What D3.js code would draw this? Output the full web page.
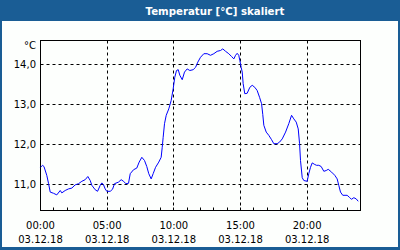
<!DOCTYPE html>
<html>
<head>
<meta charset="utf-8">
<script src="https://cdn.jsdelivr.net/npm/d3@7"></script>
<style>
  body { margin: 0; background: #fff; }
  svg { display: block; }
</style>
</head>
<body>
<script>
// measurement times (hours since 00:00) and temperatures
const hours = [0.00, 0.15, 0.26, 0.47, 0.60, 0.73, 0.98, 1.22, 1.48, 1.60, 1.85, 2.10, 2.35, 2.60, 2.85,
  3.10, 3.35, 3.55, 3.73, 3.85, 4.10, 4.28, 4.48, 4.60, 4.73, 4.85, 4.97, 5.23, 5.40, 5.55, 5.85,
  6.05, 6.23, 6.40, 6.60, 6.73, 6.98, 7.22, 7.40, 7.60, 7.80, 7.97, 8.12, 8.30, 8.45, 8.63, 8.87,
  9.05, 9.13, 9.20, 9.30, 9.43, 9.62, 9.80, 9.95, 10.07, 10.20, 10.33, 10.45, 10.63, 10.80, 11.00,
  11.20, 11.45, 11.63, 11.80, 12.00, 12.25, 12.50, 12.75, 13.00, 13.25, 13.50, 13.67, 13.88, 14.12,
  14.33, 14.50, 14.63, 14.75, 14.87, 14.95, 15.05, 15.13, 15.20, 15.32, 15.50, 15.70, 15.88, 16.07,
  16.25, 16.43, 16.58, 16.67, 16.75, 16.93, 17.12, 17.33, 17.50, 17.75, 17.93, 18.13, 18.38, 18.62,
  18.83, 19.00, 19.18, 19.33, 19.43, 19.50, 19.63, 19.75, 20.00, 20.12, 20.25, 20.38, 20.57, 20.70,
  20.87, 21.05, 21.25, 21.43, 21.58, 21.83, 22.07, 22.25, 22.37, 22.50, 22.67, 23.00, 23.17, 23.32,
  23.50, 23.68, 23.83];
const temps = [11.43, 11.48, 11.45, 11.23, 11.03, 10.81, 10.78, 10.74, 10.85, 10.79, 10.85, 10.89, 10.91, 10.99, 11.02,
  11.08, 11.12, 11.20, 11.10, 10.98, 10.87, 10.83, 10.98, 11.04, 10.99, 10.89, 10.83, 10.83, 10.88, 11.02, 11.06,
  11.12, 11.08, 11.02, 11.03, 11.27, 11.37, 11.41, 11.56, 11.68, 11.60, 11.45, 11.27, 11.14, 11.27, 11.43, 11.56,
  11.68, 11.93, 12.18, 12.52, 12.73, 12.89, 13.10, 13.39, 13.68, 13.85, 13.87, 13.73, 13.62, 13.81, 13.89,
  13.85, 13.87, 13.93, 14.06, 14.18, 14.27, 14.27, 14.23, 14.27, 14.33, 14.35, 14.39, 14.33, 14.27,
  14.20, 14.14, 14.23, 14.28, 14.23, 14.10, 13.93, 13.81, 13.52, 13.27, 13.28, 13.43, 13.48, 13.43,
  13.35, 13.18, 13.02, 12.75, 12.48, 12.31, 12.23, 12.12, 12.02, 12.02, 12.06, 12.14, 12.31, 12.52,
  12.73, 12.64, 12.56, 12.39, 12.02, 11.60, 11.17, 11.10, 11.08, 11.27, 11.43, 11.54, 11.50, 11.48,
  11.48, 11.45, 11.33, 11.35, 11.38, 11.31, 11.23, 11.14, 10.98, 10.81, 10.73, 10.73, 10.68, 10.63,
  10.67, 10.64, 10.58];

const xTickHours = [0, 5, 10, 15, 20];
const xTimeLabels = ['00:00', '05:00', '10:00', '15:00', '20:00'];
const xDateLabels = ['03.12.18', '03.12.18', '03.12.18', '03.12.18', '03.12.18'];
const yTickValues = [11, 12, 13, 14];
const yTickLabels = ['11,0', '12,0', '13,0', '14,0'];
const minorTickHours = d3.range(0, 25);

const width = 400, height = 250;
const frameColor = '#1a5d95';
const font = '"DejaVu Sans", Verdana, sans-serif';

const svg = d3.select('body').append('svg')
  .attr('width', width)
  .attr('height', height);

// window frame + title bar
svg.append('rect')
  .attr('width', width).attr('height', height)
  .attr('fill', frameColor);
svg.append('rect')
  .attr('x', 2).attr('y', 21)
  .attr('width', width - 4).attr('height', height - 24)
  .attr('fill', '#fdfffd');
svg.append('text')
  .attr('x', 215).attr('y', 15)
  .attr('text-anchor', 'middle')
  .attr('font-family', font)
  .attr('font-weight', 'bold')
  .attr('font-size', '10.2px')
  .attr('fill', '#fff')
  .text('Temperatur [°C] skaliert');

// scales
const x = d3.scaleLinear().domain([0, 24]).range([40.5, 360.5]);
const y = d3.scaleLinear().domain([10.35, 14.6]).range([210.5, 40.5]);

const plot = svg.append('g');

// grid
plot.selectAll('.hgrid').data(yTickValues).join('line')
  .attr('x1', x(0)).attr('x2', x(24))
  .attr('y1', d => Math.round(y(d) - 0.5) + 0.5)
  .attr('y2', d => Math.round(y(d) - 0.5) + 0.5)
  .attr('stroke', '#000').attr('stroke-dasharray', '3,3');
plot.selectAll('.vgrid').data(xTickHours.slice(1)).join('line')
  .attr('x1', d => Math.round(x(d) - 0.5) + 0.5)
  .attr('x2', d => Math.round(x(d) - 0.5) + 0.5)
  .attr('y1', y.range()[1]).attr('y2', y.range()[0])
  .attr('stroke', '#000').attr('stroke-dasharray', '3,3');

// minor hour ticks on the time axis
plot.selectAll('.minor').data(minorTickHours).join('line')
  .attr('x1', d => Math.round(x(d) - 0.5) + 0.5)
  .attr('x2', d => Math.round(x(d) - 0.5) + 0.5)
  .attr('y1', y.range()[0]).attr('y2', y.range()[0] - 3)
  .attr('stroke', '#000');

// plot frame
plot.append('rect')
  .attr('x', x(0)).attr('y', y.range()[1])
  .attr('width', x(24) - x(0)).attr('height', y.range()[0] - y.range()[1])
  .attr('fill', 'none').attr('stroke', '#000');

// temperature line
const line = d3.line()
  .x((d, i) => x(hours[i]))
  .y(d => y(d));
plot.append('path')
  .datum(temps)
  .attr('d', line)
  .attr('fill', 'none')
  .attr('stroke', '#0000ff')
  .attr('stroke-width', 1);

// y labels
svg.selectAll('.ylab').data(yTickValues).join('text')
  .attr('x', 36).attr('y', d => y(d) + 3.5)
  .attr('text-anchor', 'end')
  .attr('font-family', font).attr('font-size', '10px')
  .attr('fill', '#000')
  .text((d, i) => yTickLabels[i]);
svg.append('text')
  .attr('x', 36).attr('y', 49)
  .attr('text-anchor', 'end')
  .attr('font-family', font).attr('font-size', '10px')
  .attr('fill', '#000')
  .text('°C');

// x labels
svg.selectAll('.xlab').data(xTickHours).join('text')
  .attr('x', d => x(d)).attr('y', 229)
  .attr('text-anchor', 'middle')
  .attr('font-family', font).attr('font-size', '10px')
  .attr('fill', '#000')
  .text((d, i) => xTimeLabels[i]);
svg.selectAll('.xdate').data(xTickHours).join('text')
  .attr('x', d => x(d)).attr('y', 243)
  .attr('text-anchor', 'middle')
  .attr('font-family', font).attr('font-size', '10px')
  .attr('fill', '#000')
  .text((d, i) => xDateLabels[i]);
</script>
</body>
</html>
